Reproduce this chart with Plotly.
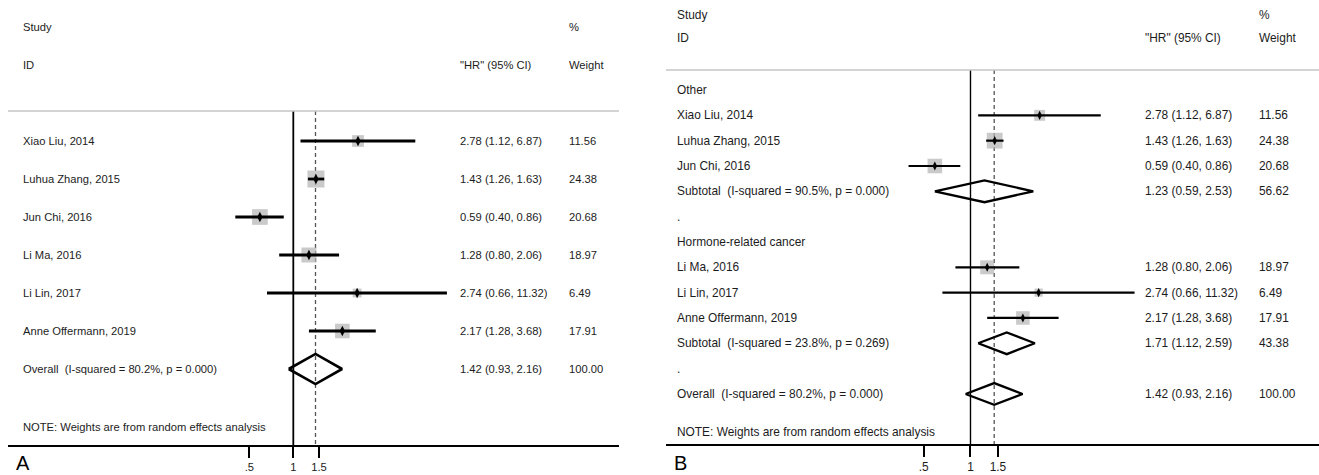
import math
import plotly.graph_objects as go

# ---- study-level data -------------------------------------------------------
studies = ["Xiao Liu, 2014", "Luhua Zhang, 2015", "Jun Chi, 2016",
           "Li Ma, 2016", "Li Lin, 2017", "Anne Offermann, 2019"]
study_group = ["Other", "Other", "Other",
               "Hormone-related cancer", "Hormone-related cancer", "Hormone-related cancer"]
hr = [2.78, 1.43, 0.59, 1.28, 2.74, 2.17]
ci_lo = [1.12, 1.26, 0.40, 0.80, 0.66, 1.28]
ci_hi = [6.87, 1.63, 0.86, 2.06, 11.32, 3.68]
weights = [11.56, 24.38, 20.68, 18.97, 6.49, 17.91]

# ---- subgroup pooled estimates ---------------------------------------------
group_names = ["Other", "Hormone-related cancer"]
sub_hr = [1.23, 1.71]
sub_lo = [0.59, 1.12]
sub_hi = [2.53, 2.59]
sub_weight = [56.62, 43.38]
sub_i2 = [90.5, 23.8]
sub_p = [0.000, 0.269]

# ---- overall pooled estimate -----------------------------------------------
overall_hr = 1.42
overall_lo = 0.93
overall_hi = 2.16
overall_weight = 100.00
overall_i2 = 80.2
overall_p = 0.000

tick_vals = [0.5, 1, 1.5]
tick_text = [".5", "1", "1.5"]

W, H = 1319, 475
FONT = "Liberation Sans, Arial, Helvetica, sans-serif"
TXT = "#1c1c1c"
NB = "\u00a0"


def fmt_ci(e, l, h):
    return f"{e:.2f} ({l:.2f}, {h:.2f})"


def pooled_label(name, i2, p):
    return f"{name}{NB}{NB}(I-squared = {i2:.1f}%, p = {p:.3f})"


# rows for the unstratified panel
rows_a = []
for i, s in enumerate(studies):
    rows_a.append(dict(kind="study", label=s, e=hr[i], l=ci_lo[i], h=ci_hi[i], w=weights[i]))
rows_a.append(dict(kind="pooled", label=pooled_label("Overall", overall_i2, overall_p),
                   e=overall_hr, l=overall_lo, h=overall_hi, w=overall_weight))

# rows for the subgroup panel
rows_b = []
for g, name in enumerate(group_names):
    rows_b.append(dict(kind="head", label=name))
    for i, s in enumerate(studies):
        if study_group[i] == name:
            rows_b.append(dict(kind="study", label=s, e=hr[i], l=ci_lo[i], h=ci_hi[i], w=weights[i]))
    rows_b.append(dict(kind="pooled", label=pooled_label("Subtotal", sub_i2[g], sub_p[g]),
                       e=sub_hr[g], l=sub_lo[g], h=sub_hi[g], w=sub_weight[g]))
    rows_b.append(dict(kind="head", label="."))
rows_b.append(dict(kind="pooled", label=pooled_label("Overall", overall_i2, overall_p),
                   e=overall_hr, l=overall_lo, h=overall_hi, w=overall_weight))

fig = go.Figure()

panels = [
    dict(rows=rows_a, xa="x", ya="y", xdom=(8, 619), ybottom_px=445,
         row0_px=141, step_px=38.0, font=11.2, sq_k=3.45, ci_w=2.8,
         dia_half=0.395, dia_w=2.6, pt=7.5, vline_w=1.8,
         cols=(21, 458, 567), study_px=27, id_px=65, rule_px=111, note_px=427,
         letter="A", letter_x=15),
    dict(rows=rows_b, xa="x2", ya="y2", xdom=(666, 1319), ybottom_px=444,
         row0_px=90, step_px=25.33, font=11.9, sq_k=3.2, ci_w=2.2,
         dia_half=0.43, dia_w=2.3, pt=6.5, vline_w=1.4,
         cols=(675, 1143, 1257), study_px=15, id_px=38, rule_px=70, note_px=432,
         letter="B", letter_x=673),
]

annotations = []
shapes = []
layout_axes = {}

for k, P in enumerate(panels):
    rows = P["rows"]
    to_row = lambda px, P=P: (px - P["row0_px"]) / P["step_px"]
    y_top = to_row(0)
    y_bot = to_row(P["ybottom_px"])
    rule_row = to_row(P["rule_px"])
    xa, ya = P["xa"], P["ya"]

    # reference line at HR = 1 and dashed line at the overall estimate
    fig.add_trace(go.Scatter(x=[1, 1], y=[rule_row, y_bot], mode="lines",
                             line=dict(color="black", width=P["vline_w"]),
                             xaxis=xa, yaxis=ya, hoverinfo="skip", showlegend=False))
    fig.add_trace(go.Scatter(x=[overall_hr, overall_hr], y=[rule_row, y_bot], mode="lines",
                             line=dict(color="#555555", width=1.3, dash="4px,3px"),
                             xaxis=xa, yaxis=ya, hoverinfo="skip", showlegend=False))

    st = [(r, i) for i, r in enumerate(rows) if r["kind"] == "study"]
    # weight boxes
    fig.add_trace(go.Scatter(
        x=[r["e"] for r, _ in st], y=[i for _, i in st], mode="markers",
        marker=dict(symbol="square", color="#b3b3b3",
                    size=[P["sq_k"] * math.sqrt(r["w"]) for r, _ in st],
                    line=dict(width=0)),
        xaxis=xa, yaxis=ya, hoverinfo="skip", showlegend=False))
    # confidence intervals
    cx, cy = [], []
    for r, i in st:
        cx += [r["l"], r["h"], None]
        cy += [i, i, None]
    fig.add_trace(go.Scatter(x=cx, y=cy, mode="lines",
                             line=dict(color="black", width=P["ci_w"]),
                             xaxis=xa, yaxis=ya, hoverinfo="skip", showlegend=False))
    # point estimates
    fig.add_trace(go.Scatter(
        x=[r["e"] for r, _ in st], y=[i for _, i in st], mode="markers",
        marker=dict(symbol="diamond-tall", color="black", size=P["pt"], line=dict(width=0)),
        xaxis=xa, yaxis=ya, hoverinfo="skip", showlegend=False))

    # pooled diamonds
    dx, dy = [], []
    hh = P["dia_half"]
    for i, r in enumerate(rows):
        if r["kind"] == "pooled":
            dx += [r["l"], r["e"], r["h"], r["e"], r["l"], None]
            dy += [i, i - hh, i, i + hh, i, None]
    fig.add_trace(go.Scatter(x=dx, y=dy, mode="lines",
                             line=dict(color="black", width=P["dia_w"]),
                             xaxis=xa, yaxis=ya, hoverinfo="skip", showlegend=False))

    # text columns
    c_lab, c_ci, c_w = (c / W for c in P["cols"])
    fs = P["font"]

    def txt(x, y, s, size=fs, yref=ya, xanchor="left"):
        annotations.append(dict(x=x, y=y, xref="paper", yref=yref, text=s,
                                showarrow=False, xanchor=xanchor, yanchor="middle",
                                font=dict(family=FONT, size=size, color=TXT)))

    txt(c_lab, to_row(P["study_px"]), "Study")
    txt(c_lab, to_row(P["id_px"]), "ID")
    txt(c_ci, to_row(P["id_px"]), "\"HR\" (95% CI)")
    txt(c_w, to_row(P["study_px"]), "%")
    txt(c_w, to_row(P["id_px"]), "Weight")
    for i, r in enumerate(rows):
        txt(c_lab, i, r["label"])
        if r["kind"] in ("study", "pooled"):
            txt(c_ci, i, fmt_ci(r["e"], r["l"], r["h"]))
            txt(c_w, i, f"{r['w']:.2f}")
    txt(c_lab, to_row(P["note_px"]), "NOTE: Weights are from random effects analysis")
    annotations.append(dict(x=P["letter_x"] / W, y=(H - 463) / H, xref="paper", yref="paper",
                            text=P["letter"], showarrow=False, xanchor="left", yanchor="middle",
                            borderpad=0, font=dict(family=FONT, size=20, color="black")))

    # header rule
    shapes.append(dict(type="line", xref=f"{xa} domain", yref=ya, x0=0, x1=1,
                       y0=rule_row, y1=rule_row, line=dict(color="#c6c6c6", width=1.6)))

    xs = "" if k == 0 else "2"
    x0p, x1p = P["xdom"]
    # log-scaled HR axis: 1 at the reference line
    ln_left = -4.507 if k == 0 else -4.504
    ln_right = 5.145 if k == 0 else 5.155
    layout_axes[f"xaxis{xs}"] = dict(
        type="log", domain=[x0p / W, x1p / W],
        range=[ln_left / math.log(10), ln_right / math.log(10)],
        anchor=ya, tickmode="array", tickvals=tick_vals, ticktext=tick_text,
        showline=True, linecolor="black", linewidth=1.6, ticks="outside",
        ticklen=11, tickwidth=1.5, tickcolor="black", showgrid=False, zeroline=False,
        tickfont=dict(family=FONT, size=fs, color=TXT), fixedrange=True)
    layout_axes[f"yaxis{xs}"] = dict(
        domain=[(H - P["ybottom_px"]) / H, 1], range=[y_bot, y_top],
        anchor=xa, visible=False, showgrid=False, zeroline=False, fixedrange=True)

fig.update_layout(
    width=W, height=H, margin=dict(l=0, r=0, t=0, b=0),
    paper_bgcolor="white", plot_bgcolor="white",
    showlegend=False, annotations=annotations, shapes=shapes,
    **layout_axes)

fig.write_html("out.html")
